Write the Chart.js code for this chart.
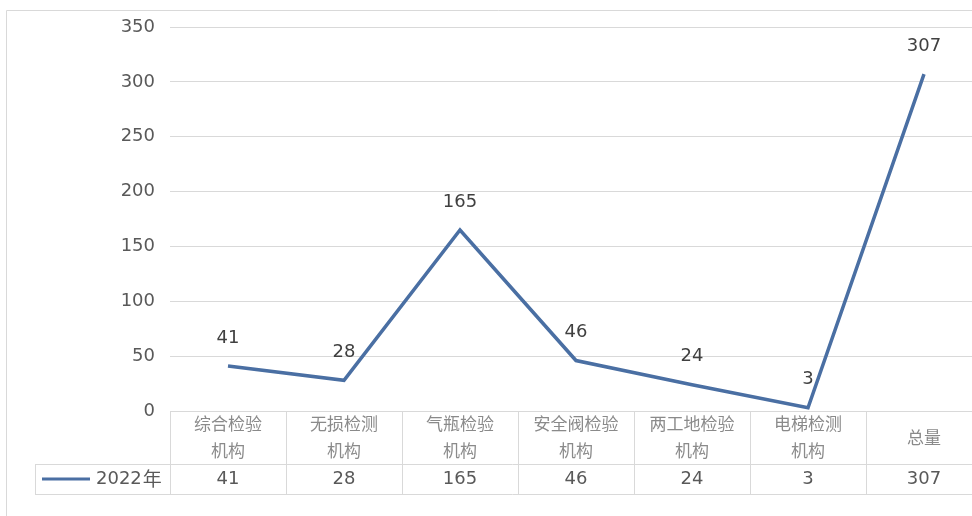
<!DOCTYPE html>
<html>
<head>
<meta charset="utf-8">
<script src="https://cdn.jsdelivr.net/npm/chart.js@4.4.1/dist/chart.umd.min.js"></script>
<style>
  html, body { margin: 0; padding: 0; background: #ffffff; overflow: hidden; }
  #wrap { position: absolute; left: 0; top: 0; width: 990px; height: 516px; }
</style>
</head>
<body>
<div id="wrap"><canvas id="c"></canvas></div>
<script>
// ---- data ----
const categories = [
  ["综合检验", "机构"],
  ["无损检测", "机构"],
  ["气瓶检验", "机构"],
  ["安全阀检验", "机构"],
  ["两工地检验", "机构"],
  ["电梯检测", "机构"],
  ["总量"]
];
const seriesName = "2022年";
const values2022 = [41, 28, 165, 46, 24, 3, 307];
const yTicks = [0, 50, 100, 150, 200, 250, 300, 350];

const LINE_COLOR = "#4a6fa3";
const GRID_COLOR = "#d9d9d9";
const TEXT_COLOR = "#595959";
const NUM_FONT = "DejaVu Sans";
const CJK_FONT = "'Noto Sans CJK SC'";

const labelsPlugin = {
  id: "pointLabels",
  afterDatasetsDraw(chart) {
    const ctx = chart.ctx;
    const meta = chart.getDatasetMeta(0);
    ctx.save();
    ctx.font = "18px " + NUM_FONT;
    ctx.fillStyle = "#404040";
    ctx.textAlign = "center";
    ctx.textBaseline = "middle";
    meta.data.forEach((pt, i) => {
      ctx.fillText(String(chart.data.datasets[0].data[i]), pt.x, pt.y - 28);
    });
    ctx.restore();
  }
};

const tablePlugin = {
  id: "dataTable",
  afterDraw(chart) {
    const ctx = chart.ctx;
    const xs = chart.scales.x;
    const area = chart.chartArea;
    const n = categories.length;
    const slot = (area.right - area.left) / n;
    const top = area.bottom;
    const mid = 464;
    const bot = 494;
    const legendLeft = 35;
    ctx.save();
    // outer frame (left & top)
    ctx.strokeStyle = "#d9d9d9";
    ctx.lineWidth = 1;
    ctx.beginPath();
    ctx.moveTo(6.5, 516);
    ctx.lineTo(6.5, 10.5);
    ctx.lineTo(990, 10.5);
    ctx.stroke();

    ctx.strokeStyle = GRID_COLOR;
    ctx.beginPath();
    ctx.moveTo(area.left, Math.round(top) + 0.5);
    ctx.lineTo(990, Math.round(top) + 0.5);
    ctx.moveTo(legendLeft, mid + 0.5);
    ctx.lineTo(990, mid + 0.5);
    ctx.moveTo(legendLeft, bot + 0.5);
    ctx.lineTo(990, bot + 0.5);
    for (let i = 0; i <= n; i++) {
      const x = Math.round(area.left + i * slot) + 0.5;
      ctx.moveTo(x, Math.round(top));
      ctx.lineTo(x, bot);
    }
    ctx.moveTo(legendLeft + 0.5, mid);
    ctx.lineTo(legendLeft + 0.5, bot);
    ctx.stroke();

    // header labels
    ctx.textAlign = "center";
    ctx.textBaseline = "middle";
    ctx.font = "17px " + CJK_FONT;
    ctx.fillStyle = "#8a8a8a";
    categories.forEach((lab, i) => {
      const cx = xs.getPixelForValue(i);
      if (lab.length === 1) {
        ctx.fillText(lab[0], cx, 438);
      } else {
        ctx.fillText(lab[0], cx, 424);
        ctx.fillText(lab[1], cx, 451);
      }
    });

    // data row
    ctx.font = "18px " + NUM_FONT;
    ctx.fillStyle = TEXT_COLOR;
    values2022.forEach((v, i) => {
      ctx.fillText(String(v), xs.getPixelForValue(i), 479);
    });

    // legend key
    ctx.strokeStyle = LINE_COLOR;
    ctx.lineWidth = 3;
    ctx.beginPath();
    ctx.moveTo(42, 479);
    ctx.lineTo(90, 479);
    ctx.stroke();
    ctx.textAlign = "left";
    ctx.fillStyle = TEXT_COLOR;
    ctx.font = "18px " + NUM_FONT;
    const yearPart = seriesName.replace("年", "");
    ctx.fillText(yearPart, 96, 479);
    const w = ctx.measureText(yearPart).width;
    ctx.font = "19px " + CJK_FONT;
    ctx.fillText("年", 96 + w + 1, 479);
    ctx.restore();
  }
};

new Chart(document.getElementById("c"), {
  type: "line",
  data: {
    labels: categories,
    datasets: [{
      label: seriesName,
      data: values2022,
      borderColor: LINE_COLOR,
      borderWidth: 3.5,
      pointRadius: 0,
      pointHoverRadius: 0,
      tension: 0,
      fill: false
    }]
  },
  options: {
    responsive: true,
    maintainAspectRatio: false,
    animation: false,
    layout: { padding: { left: 0, top: 27, right: 8, bottom: 105 } },
    plugins: { legend: { display: false }, tooltip: { enabled: false } },
    scales: {
      x: { type: "category", display: false, offset: true },
      y: {
        min: 0,
        max: 350,
        afterBuildTicks(scale) { scale.ticks = yTicks.map(v => ({ value: v })); },
        afterFit(scale) { scale.width = 170; },
        grid: { color: GRID_COLOR, drawTicks: false, lineWidth: 1 },
        border: { display: false },
        ticks: {
          color: TEXT_COLOR,
          padding: 15,
          font: { family: NUM_FONT, size: 18 }
        }
      }
    }
  },
  plugins: [labelsPlugin, tablePlugin]
});
</script>
</body>
</html>
